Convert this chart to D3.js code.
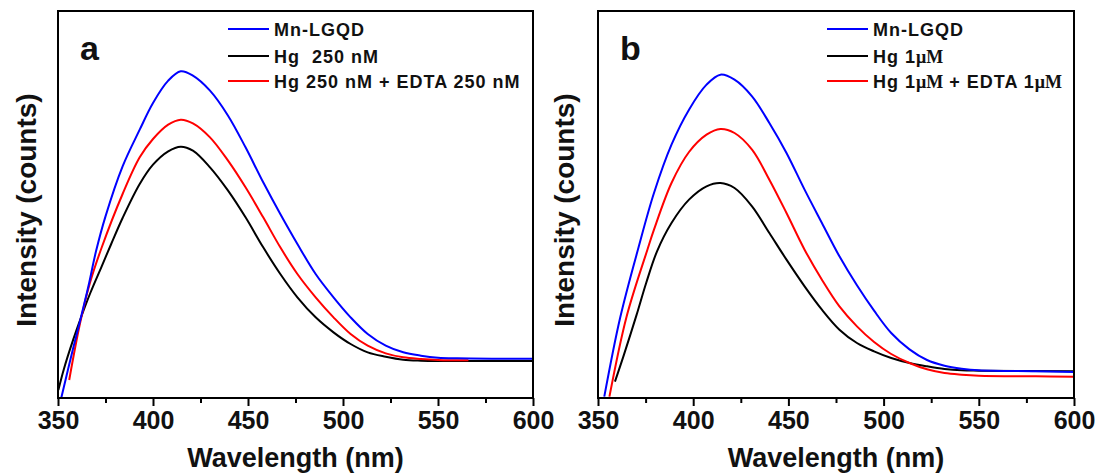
<html>
<head>
<meta charset="utf-8">
<title>Mn-LGQD fluorescence</title>
<style>
  body { margin: 0; background: #fff; }
  text { font-family: "Liberation Sans", Arial, sans-serif; font-weight: bold; }
</style>
</head>
<body>
<svg id="chart" width="1098" height="474"></svg>
<script src="https://cdnjs.cloudflare.com/ajax/libs/d3/7.8.5/d3.min.js"></script>
<script>
// wavelength ticks (nm)
var majorTicks = [350, 400, 450, 500, 550, 600];
var minorTicks = [375, 425, 475, 525, 575];

// panel a : Hg 250 nM
var aBlueX  = [351.8, 358, 362, 366, 370, 375, 384, 393, 400, 408, 414.6, 421, 430, 439.5, 448.7, 458, 467, 476, 485.6, 495, 504, 513, 522.5, 531.7, 541, 550, 560, 580, 600];
var aBlueY  = [2, 150, 240, 335, 440, 545, 695, 805, 885, 952, 980, 967, 922, 847, 752, 647, 552, 462, 372, 302, 242, 192, 157, 137, 127, 121, 119, 118, 118];
var aBlackX = [350.2, 353, 358, 362, 367, 373, 378, 384, 393, 400, 408, 414.6, 421, 430, 439.5, 448.7, 458, 467, 476, 485.6, 495, 504, 513, 522.5, 531.7, 541, 550, 600];
var aBlackY = [24, 85, 175, 240, 315, 395, 462, 540, 642, 700, 740, 754, 742, 692, 622, 542, 452, 372, 302, 242, 197, 162, 137, 124, 115, 112, 111, 111];
var aRedX   = [355.9, 361.6, 366.8, 372.9, 384, 393, 400, 408, 414.6, 421, 430, 439.5, 448.7, 458, 467, 476, 485.6, 495, 504, 513, 522.5, 531.7, 541, 550, 566];
var aRedY   = [54, 224, 345, 450, 612, 722, 777, 820, 835, 824, 782, 712, 632, 542, 452, 372, 302, 242, 192, 157, 134, 122, 117, 114, 113];
var aLabels = ["Mn-LGQD", "Hg  250 nM", "Hg 250 nM + EDTA 250 nM"];

// panel b : Hg 1 uM
var bBlueX  = [353.3, 361.6, 371.2, 379.4, 388.6, 397.8, 407, 414.3, 421.7, 430.9, 440, 449, 458.5, 467.6, 476.8, 486, 495, 504, 513.6, 522.8, 532, 541, 550, 580, 600];
var bBlueY  = [4, 240, 450, 615, 760, 865, 940, 970, 955, 905, 825, 735, 625, 525, 425, 338, 262, 195, 146, 114, 97, 88, 83, 80, 78];
var bBlackX = [358.9, 363.3, 370.3, 375.3, 381, 388.6, 397.8, 407, 414.3, 421.7, 430.9, 440, 449, 458.5, 467.6, 476.8, 486, 495, 504, 513.6, 522.8, 532, 541, 550, 600];
var bBlackY = [49, 124, 250, 345, 440, 525, 595, 635, 645, 630, 575, 495, 415, 335, 265, 205, 165, 140, 120, 105, 95, 87, 83, 82, 80];
var bRedX   = [356, 365, 375.9, 379.4, 388.6, 397.8, 407, 414.3, 421.7, 430.9, 440, 449, 458.5, 467.6, 476.8, 486, 495, 504, 513.6, 522.8, 532, 541, 550, 580, 600];
var bRedY   = [4, 244, 444, 505, 645, 738, 790, 807, 795, 745, 655, 555, 445, 355, 275, 215, 168, 132, 105, 86, 75, 70, 67, 65, 64];
var bLabels = ["Mn-LGQD", "Hg 1|μM", "Hg 1|μM| + EDTA 1|μM"];

var colors = ["#0000ff", "#000000", "#ff0000"];

var svg = d3.select("#chart");
var plotTop = 11, plotBottom = 398;

function zip(xs, ys) { return xs.map(function (x, i) { return [x, ys[i]]; }); }

function drawPanel(p) {
  var x = d3.scaleLinear().domain([350, 600]).range([p.left, p.right]);
  var y = d3.scaleLinear().domain([0, 1161]).range([plotBottom, plotTop]);
  var g = svg.append("g");

  g.append("clipPath").attr("id", "clip" + p.name)
    .append("rect").attr("x", p.left).attr("y", plotTop)
    .attr("width", p.right - p.left).attr("height", plotBottom - plotTop);

  var line = d3.line().x(function (d) { return x(d[0]); }).y(function (d) { return y(d[1]); })
    .curve(d3.curveCatmullRom.alpha(0.5));

  // draw order: black, red, blue on top
  [1, 2, 0].forEach(function (i) {
    g.append("path").datum(p.series[i])
      .attr("clip-path", "url(#clip" + p.name + ")")
      .attr("fill", "none").attr("stroke", colors[i]).attr("stroke-width", 2)
      .attr("d", line);
  });

  // minor ticks
  g.append("g").attr("transform", "translate(0," + plotBottom + ")")
    .call(d3.axisBottom(x).tickValues(minorTicks).tickSize(5).tickFormat(""))
    .call(function (s) { s.select(".domain").remove(); s.selectAll("line").attr("stroke-width", 2); });

  var ax = g.append("g").attr("transform", "translate(0," + plotBottom + ")")
    .call(d3.axisBottom(x).tickValues(majorTicks).tickSize(8).tickPadding(5));
  ax.select(".domain").remove();
  ax.selectAll("line").attr("stroke-width", 2);
  ax.selectAll("text").attr("font-size", 25).attr("font-weight", "bold")
    .attr("font-family", "Liberation Sans, Arial, sans-serif").attr("fill", "#111");

  g.append("rect").attr("x", p.left).attr("y", plotTop)
    .attr("width", p.right - p.left).attr("height", plotBottom - plotTop)
    .attr("fill", "none").attr("stroke", "#000").attr("stroke-width", 2);

  g.append("text").attr("x", (p.left + p.right) / 2).attr("y", 467)
    .attr("text-anchor", "middle").attr("font-size", 27).attr("fill", "#111")
    .text("Wavelength (nm)");

  g.append("text").attr("transform", "translate(" + p.ytitleX + ",210) rotate(-90)")
    .attr("text-anchor", "middle").attr("font-size", 28).attr("fill", "#111")
    .text("Intensity (counts)");

  g.append("text").attr("x", p.left + 22).attr("y", 60)
    .attr("font-size", 34).attr("fill", "#111").text(p.name);

  // legend
  var rows = [29, 56, 81];
  p.labels.forEach(function (lab, i) {
    g.append("line").attr("x1", p.legX).attr("x2", p.legX + 41)
      .attr("y1", rows[i]).attr("y2", rows[i])
      .attr("stroke", colors[i]).attr("stroke-width", 2);
    var t = g.append("text").attr("x", p.legX + 46).attr("y", rows[i] + 7)
      .attr("font-size", 18).attr("letter-spacing", 1).attr("fill", "#111")
      .style("white-space", "pre");
    lab.split("|").forEach(function (part) {
      var ts = t.append("tspan").text(part);
      if (part === "μM") ts.attr("font-family", "Liberation Serif, serif").attr("letter-spacing", 0);
    });
  });
}

drawPanel({
  name: "a", left: 58, right: 533, ytitleX: 36, legX: 228, labels: aLabels,
  series: [zip(aBlueX, aBlueY), zip(aBlackX, aBlackY), zip(aRedX, aRedY)]
});
drawPanel({
  name: "b", left: 598, right: 1074, ytitleX: 574, legX: 827, labels: bLabels,
  series: [zip(bBlueX, bBlueY), zip(bBlackX, bBlackY), zip(bRedX, bRedY)]
});
</script>
</body>
</html>
